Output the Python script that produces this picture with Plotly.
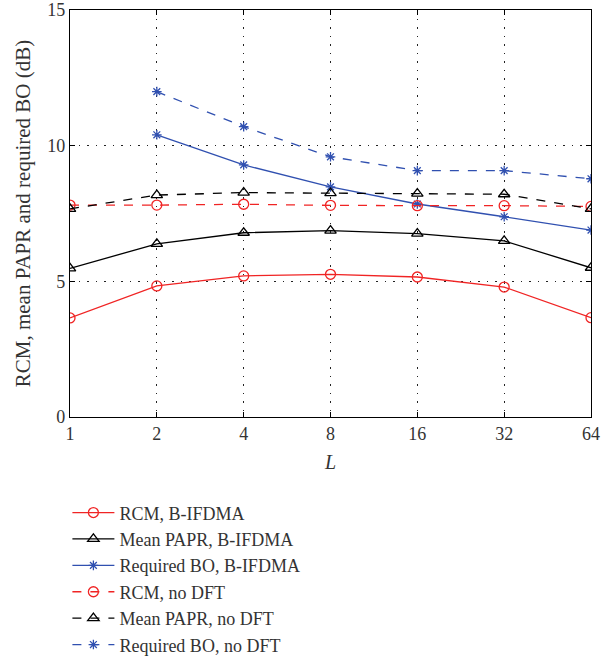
import plotly.graph_objects as go

L = [1, 2, 4, 8, 16, 32, 64]
L_bo = [2, 4, 8, 16, 32, 64]
rcm_ifdma = [3.65, 4.83, 5.2, 5.26, 5.16, 4.79, 3.66]
papr_ifdma = [5.48, 6.38, 6.79, 6.87, 6.76, 6.49, 5.5]
bo_ifdma = [10.4, 9.29, 8.48, 7.85, 7.38, 6.89]
rcm_nodft = [7.81, 7.81, 7.84, 7.8, 7.79, 7.79, 7.76]
papr_nodft = [7.67, 8.18, 8.27, 8.25, 8.23, 8.21, 7.67]
bo_nodft = [11.99, 10.7, 9.59, 9.08, 9.08, 8.78]
x_ticks = [1, 2, 4, 8, 16, 32, 64]
y_ticks = [0, 5, 10, 15]

RED = "#f02424"
BLACK = "#000000"
BLUE = "#3050b0"
FONT = "Liberation Serif"
TXT = "#333333"

series = [
    ("RCM, B-IFDMA", L, rcm_ifdma, RED, "solid", "circle-open", 10),
    ("Mean PAPR, B-IFDMA", L, papr_ifdma, BLACK, "solid", "triangle-up-open", 10),
    ("Required BO, B-IFDMA", L_bo, bo_ifdma, BLUE, "solid", "asterisk-open", 8),
    ("RCM, no DFT", L, rcm_nodft, RED, "dash", "circle-open", 10),
    ("Mean PAPR, no DFT", L, papr_nodft, BLACK, "dash", "triangle-up-open", 10),
    ("Required BO, no DFT", L_bo, bo_nodft, BLUE, "dash", "asterisk-open", 8),
]

fig = go.Figure()
for i, (name, xs, ys, col, dash, sym, ms) in enumerate(series):
    fig.add_trace(go.Scatter(
        x=xs, y=ys, name=name, mode="lines+markers",
        line=dict(color=col, width=1.3, dash=dash),
        marker=dict(symbol=sym, size=ms, color=col, line=dict(color=col, width=1.3)),
    ))

axis_common = dict(
    showline=True, linecolor="black", linewidth=1.3, mirror="ticks",
    ticks="inside", ticklen=5, tickcolor="black",
    showgrid=True, gridcolor="#222222", griddash="1.5px,7px", gridwidth=1.3,
    zeroline=False,
    tickfont=dict(family=FONT, size=18, color=TXT),
)

fig.update_xaxes(
    type="log", range=[0, 1.80618], tickvals=x_ticks, ticktext=[str(v) for v in x_ticks],
    title=dict(text="<i>L</i>", font=dict(family=FONT, size=20, color=TXT), standoff=12),
    **axis_common,
)
fig.update_yaxes(
    range=[0, 15], tickvals=y_ticks,
    title=dict(text="RCM, mean PAPR and required BO (dB)", font=dict(family=FONT, size=21, color=TXT), standoff=10),
    **axis_common,
)

fig.update_layout(
    width=602, height=661,
    margin=dict(l=70, r=11, t=10, b=244, autoexpand=False),
    plot_bgcolor="white", paper_bgcolor="white",
    showlegend=True,
    legend=dict(
        x=-0.005, y=-0.19, xanchor="left", yanchor="top",
        font=dict(family=FONT, size=18, color=TXT),
        itemwidth=42,
        bgcolor="rgba(0,0,0,0)",
    ),
)

fig.write_html("out.html")
